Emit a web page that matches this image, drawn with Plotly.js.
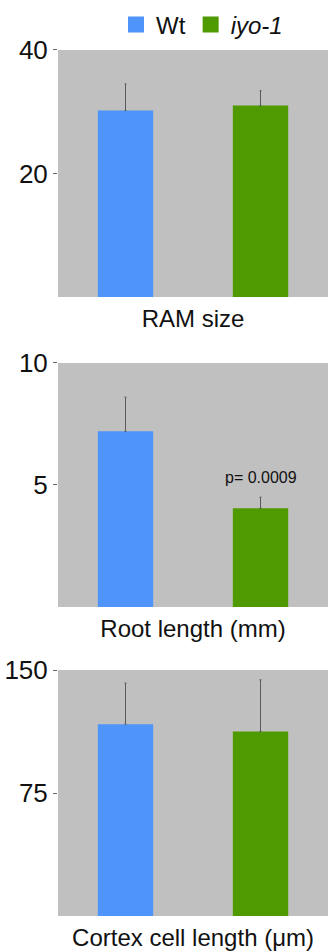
<!DOCTYPE html>
<html>
<head>
<meta charset="utf-8">
<script src="https://cdn.plot.ly/plotly-3.0.1.min.js"></script>
<style>html,body{margin:0;padding:0;background:#fff;}#chart{width:329px;height:952px;}</style>
</head>
<body>
<div id="chart"></div>
<script>
var categories = ['Wt', 'iyo-1'];
var seriesNames = ['Wt', '<i>iyo-1</i>'];
var ramSize = [30.2, 31.0];
var ramErr = [4.3, 2.4];
var rootLength = [7.2, 4.05];
var rootErr = [1.4, 0.45];
var cortexLength = [117, 112.5];
var cortexErr = [25, 31.5];
var panelTitles = ['RAM size', 'Root length (mm)', 'Cortex cell length (\u03bcm)'];
var ramTicks = [20, 40];
var rootTicks = [5, 10];
var cortexTicks = [75, 150];
var pLabel = 'p= 0.0009';
var pLabelY = 5.3;

var colors = ['#4f94fa', '#4f9a00'];
var FONT = 'Liberation Sans, Arial, Helvetica, sans-serif';

var panels = [
  {vals: ramSize, errs: ramErr, ticks: ramTicks, range: [0, 40]},
  {vals: rootLength, errs: rootErr, ticks: rootTicks, range: [0, 10]},
  {vals: cortexLength, errs: cortexErr, ticks: cortexTicks, range: [0, 150]}
];
var domains = [[0.6880, 0.9475], [0.3624, 0.6187], [0.0378, 0.2962]];

var data = [];
panels.forEach(function (p, pi) {
  var sfx = pi === 0 ? '' : String(pi + 1);
  categories.forEach(function (c, ci) {
    data.push({
      type: 'bar',
      x: [c],
      y: [p.vals[ci]],
      xaxis: 'x' + sfx,
      yaxis: 'y' + sfx,
      marker: {color: colors[ci], line: {width: 0}},
      showlegend: false,
      hoverinfo: 'skip',
      error_y: {type: 'data', symmetric: false, array: [p.errs[ci]], arrayminus: [0],
                color: '#5a5a5a', thickness: 1, width: 1}
    });
  });
});
// legend entries
categories.forEach(function (c, ci) {
  data.push({
    type: 'scatter', mode: 'markers', x: [null], y: [null],
    name: seriesNames[ci],
    marker: {symbol: 'square', size: 20, color: colors[ci]},
    showlegend: true, hoverinfo: 'skip'
  });
});

var layout = {
  width: 329, height: 952,
  margin: {l: 58, r: 1, t: 0, b: 0, autoexpand: false},
  paper_bgcolor: '#ffffff',
  plot_bgcolor: '#c0c0c0',
  barmode: 'overlay',
  bargap: 0.59,
  font: {family: FONT, color: '#111', size: 24},
  showlegend: true,
  legend: {orientation: 'h', xref: 'paper', yref: 'paper',
           x: (202 - 58) / 270, xanchor: 'center', y: 1 - 25 / 952, yanchor: 'middle',
           font: {size: 24, family: FONT, color: '#111'}, bgcolor: 'rgba(0,0,0,0)',
           itemwidth: 30, tracegroupgap: 0},
  annotations: [{
    xref: 'x2', yref: 'y2', x: 'iyo-1', y: pLabelY, text: pLabel, showarrow: false,
    font: {size: 16, family: FONT, color: '#111'}, xanchor: 'center', yanchor: 'middle'
  }]
};

panels.forEach(function (p, pi) {
  var sfx = pi === 0 ? '' : String(pi + 1);
  layout['xaxis' + sfx] = {
    domain: [0, 1], anchor: 'y' + sfx, type: 'category', categoryarray: categories,
    range: [-0.5, 1.5], showticklabels: false, ticks: '', showgrid: false,
    zeroline: false, showline: false, fixedrange: true,
    title: {text: panelTitles[pi], font: {size: 24, family: FONT, color: '#111'}, standoff: 13}
  };
  layout['yaxis' + sfx] = {
    domain: domains[pi], anchor: 'x' + sfx, range: p.range,
    tickmode: 'array', tickvals: p.ticks, ticktext: p.ticks.map(String),
    ticks: 'outside', ticklen: 4, tickwidth: 1, tickcolor: '#666',
    showgrid: false, zeroline: false, showline: false, fixedrange: true,
    tickfont: {size: 26, family: FONT, color: '#111'}
  };
});

Plotly.newPlot('chart', data, layout, {displayModeBar: false, staticPlot: true});
</script>
</body>
</html>
